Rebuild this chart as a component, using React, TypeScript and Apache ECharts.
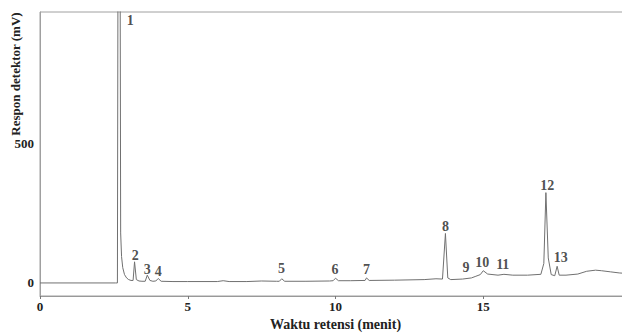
import React, { useEffect, useRef } from "react";
import * as echarts from "echarts";

// chromatogram trace: [retention time (min), detector response (mV)]
const traceTimes = [
  0, 2.55, 2.62, 2.64, 2.71, 2.73, 2.76, 2.8, 2.86, 2.93, 3.0, 3.08,
  3.15, 3.2, 3.26, 3.35, 3.45, 3.56, 3.63, 3.72, 3.82, 3.92, 4.0, 4.1,
  4.5, 5.0, 6.0, 6.2, 6.4, 7.0, 7.5, 8.0, 8.1, 8.18, 8.28, 9.0, 9.8,
  9.92, 10.0, 10.1, 10.5, 11.0, 11.05, 11.14, 12.0, 13.0, 13.4, 13.62,
  13.72, 13.8, 13.9, 14.3, 14.6, 14.75, 14.9, 15.0, 15.15, 15.5, 15.7,
  16.0, 16.5, 16.95, 17.05, 17.12, 17.2, 17.3, 17.42, 17.5, 17.57, 17.8,
  18.2, 18.5, 18.8, 19.0, 19.3, 19.6, 20.0,
];
const traceValues = [
  0, 0, 0, 1200, 1200, 180, 95, 55, 30, 18, 12, 9,
  9, 76, 12, 7, 6, 6, 28, 9, 6, 7, 16, 6,
  5, 5, 5, 8, 5, 5, 7, 6, 6, 15, 6, 6, 7,
  8, 17, 8, 8, 9, 18, 9, 10, 12, 15, 14,
  178, 18, 12, 14, 18, 24, 30, 44, 32, 28, 31,
  28, 28, 31, 70, 325, 90, 30, 26, 60, 28, 28,
  32, 42, 46, 44, 40, 36, 33,
];

// peak numbering
const peakNames = ["1", "2", "3", "4", "5", "6", "7", "8", "9", "10", "11", "12", "13"];
const peakLabelTimes = [3.05, 3.22, 3.63, 4.0, 8.17, 9.98, 11.05, 13.72, 14.42, 14.97, 15.66, 17.17, 17.62];
const peakLabelValues = [946, 97, 47, 42, 52, 47, 50, 202, 54, 72, 65, 350, 90];

const xTicks = [0, 5, 10, 15, 20];
const yTicks = [0, 500];

const FONT = "'Liberation Serif', 'DejaVu Serif', serif";

export default function App() {
  const ref = useRef<HTMLDivElement>(null);
  useEffect(() => {
    if (!ref.current) return;
    const chart = echarts.init(ref.current, undefined, { renderer: "svg" });
    chart.setOption({
      animation: false,
      backgroundColor: "#ffffff",
      grid: {
        left: 40,
        right: 9,
        top: 12,
        bottom: 37,
        show: true,
        borderColor: "#a0a0a0",
        borderWidth: 1,
        containLabel: false,
        outerBoundsMode: "none",
      },
      graphic: [
        {
          type: "text",
          x: 15,
          y: 74,
          rotation: Math.PI / 2,
          style: {
            text: "Respon detektor (mV)",
            font: `bold 13px ${FONT}`,
            fill: "#222",
            align: "center",
            verticalAlign: "middle",
          },
        },
      ],
      xAxis: {
        type: "value",
        min: 0,
        max: 20,
        interval: 5,
        name: "Waktu retensi (menit)",
        nameLocation: "middle",
        nameGap: 20,
        nameTextStyle: { fontFamily: FONT, fontWeight: "bold", fontSize: 14, color: "#222" },
        axisLine: { show: true, onZero: false, lineStyle: { color: "#999", width: 1 } },
        axisTick: { show: true, length: 3, lineStyle: { color: "#777" }, customValues: xTicks },
        axisLabel: {
          fontFamily: FONT,
          fontWeight: "bold",
          fontSize: 13,
          color: "#222",
          margin: 4,
          customValues: xTicks,
        },
        splitLine: { show: false },
      },
      yAxis: {
        type: "value",
        min: -47,
        max: 975,
        axisLine: { show: true, onZero: false, lineStyle: { color: "#a0a0a0", width: 1 } },
        axisTick: { show: false },
        axisLabel: {
          fontFamily: FONT,
          fontWeight: "bold",
          fontSize: 13,
          color: "#222",
          margin: 6,
          customValues: yTicks,
        },
        splitLine: { show: false },
      },
      series: [
        {
          type: "line",
          data: traceTimes.map((t, i) => [t, traceValues[i]]),
          showSymbol: false,
          symbol: "none",
          clip: true,
          lineStyle: { color: "#707070", width: 1 },
          silent: true,
        },
        {
          type: "scatter",
          data: peakLabelTimes.map((t, i) => ({ value: [t, peakLabelValues[i]], name: peakNames[i] })),
          symbolSize: 0,
          silent: true,
          label: {
            show: true,
            position: "inside",
            formatter: (p: any) => p.name,
            fontFamily: FONT,
            fontWeight: "bold",
            fontSize: 14,
            color: "#222",
          },
        },
      ],
    });
    return () => chart.dispose();
  }, []);
  return (
    <div style={{ position: "fixed", left: 0, top: 0, width: 622, height: 333, overflow: "hidden", background: "#fff" }}>
      <div ref={ref} style={{ width: 640, height: 333 }} />
    </div>
  );
}
